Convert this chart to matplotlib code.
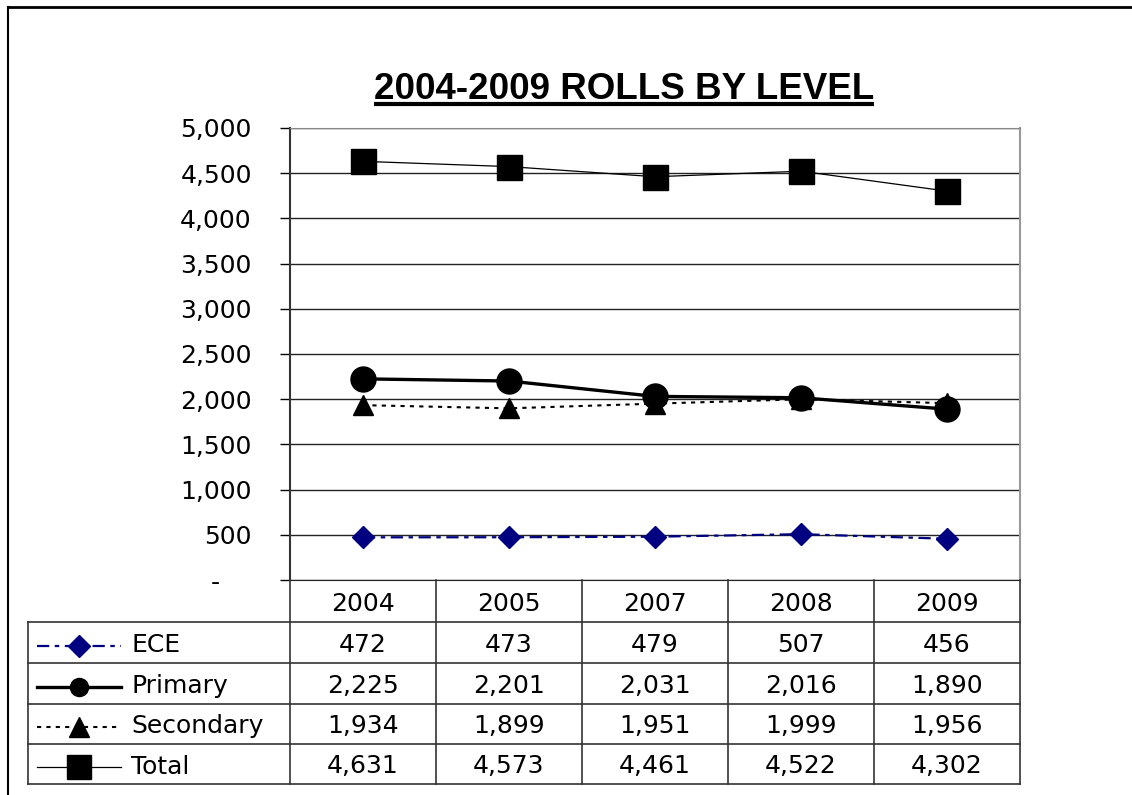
import matplotlib
matplotlib.use('Agg')
import matplotlib.pyplot as plt
from matplotlib.lines import Line2D
from matplotlib.ticker import FuncFormatter, MultipleLocator

plt.rcParams['font.family'] = ['DejaVu Sans']

years = ['2004', '2005', '2007', '2008', '2009']
ece = [472, 473, 479, 507, 456]
primary = [2225, 2201, 2031, 2016, 1890]
secondary = [1934, 1899, 1951, 1999, 1956]
total = [4631, 4573, 4461, 4522, 4302]
series_names = ['ECE', 'Primary', 'Secondary', 'Total']

W, H = 1132, 795
fig = plt.figure(figsize=(W / 100, H / 100), dpi=100)

# plot area (pixel box converted to figure fractions)
px_left, px_right, px_top, px_bottom = 290, 1020, 128, 580
ax = fig.add_axes([px_left / W, 1 - px_bottom / H,
                   (px_right - px_left) / W, (px_bottom - px_top) / H])

x = list(range(len(years)))
styles = {
    'ECE': dict(color='#000080', lw=1.6, ls=(0, (5.5, 2.5, 2, 2.5)), marker='D', ms=11, key_ms=11, zorder=3),
    'Primary': dict(color='black', lw=2.4, ls='-', marker='o', ms=18, key_ms=13, zorder=5),
    'Secondary': dict(color='black', lw=1.5, ls=(0, (2, 2.5)), marker='^', ms=15, key_ms=14, zorder=4),
    'Total': dict(color='black', lw=0.9, ls='-', marker='s', ms=18, key_ms=17, zorder=3),
}
values = {'ECE': ece, 'Primary': primary, 'Secondary': secondary, 'Total': total}

for name in series_names:
    st = styles[name]
    ax.plot(x, values[name], color=st['color'], lw=st['lw'], ls=st['ls'],
            marker=st['marker'], ms=st['ms'], mfc=st['color'], mec=st['color'],
            zorder=st['zorder'])

ax.set_xlim(-0.5, len(years) - 0.5)
ax.set_ylim(0, 5000)
ax.yaxis.set_major_locator(MultipleLocator(500))


def fmt(v, pos):
    # accounting style: zero shown as a dash with padding after it
    if v == 0:
        return '-    '
    return f'{int(v):,}'


ax.yaxis.set_major_formatter(FuncFormatter(fmt))
ax.tick_params(axis='y', direction='out', length=7.5, width=1, pad=20, labelsize=18)
ax.tick_params(axis='x', bottom=False, labelbottom=False)
ax.grid(axis='y', color='#222222', lw=1)
ax.set_axisbelow(True)
ax.spines['left'].set_color('#333333')
ax.spines['left'].set_linewidth(1.5)
ax.spines['right'].set_color('#999999')
ax.spines['right'].set_linewidth(1.5)
ax.spines['top'].set_color('#888888')
ax.spines['bottom'].set_color('#222222')

# overlay in pixel coordinates for the frame, title underline and data table
ov = fig.add_axes([0, 0, 1, 1], zorder=10)
ov.set_xlim(0, W)
ov.set_ylim(H, 0)
ov.axis('off')

# outer frame (top and left edges visible)
ov.plot([8, W], [7, 7], color='black', lw=2)
ov.plot([8, 8], [7, H], color='black', lw=1.5)

# title
t = ov.text(624, 99, '2004-2009 ROLLS BY LEVEL', fontsize=26.5, fontweight='bold',
            family=['Liberation Sans', 'DejaVu Sans'], ha='center', va='baseline')
fig.canvas.draw()
bb = t.get_window_extent()
ov.plot([bb.x0, bb.x1], [104, 104], color='black', lw=3, solid_capstyle='butt')

# data table
col_edges = [px_left + (px_right - px_left) * i / len(years) for i in range(len(years) + 1)]
row_edges = [580, 622, 663, 704, 744, 784]
tab_left = 28
line_kw = dict(color='#333333', lw=1.2)

for ye in row_edges[1:]:
    ov.plot([tab_left, px_right], [ye, ye], **line_kw)
for xe in col_edges:
    ov.plot([xe, xe], [row_edges[0], row_edges[-1]], **line_kw)
ov.plot([tab_left, tab_left], [row_edges[1], row_edges[-1]], **line_kw)

for j, yr in enumerate(years):
    xc = (col_edges[j] + col_edges[j + 1]) / 2
    ov.text(xc, row_edges[1] - 11, yr, fontsize=18, ha='center', va='baseline')

for i, name in enumerate(series_names):
    top, bot = row_edges[i + 1], row_edges[i + 2]
    yc = (top + bot) / 2 + 3
    st = styles[name]
    key = Line2D([37, 121], [yc, yc], color=st['color'], lw=st['lw'], ls=st['ls'])
    ov.add_line(key)
    ov.plot([79], [yc], marker=st['marker'], ms=st['key_ms'], color=st['color'], ls='none')
    ov.text(131, bot - 10.5, name, fontsize=18, ha='left', va='baseline')
    for j, v in enumerate(values[name]):
        xc = (col_edges[j] + col_edges[j + 1]) / 2
        ov.text(xc, bot - 10.5, f'{v:,}', fontsize=18, ha='center', va='baseline')

fig.savefig('out.png', dpi=100, facecolor='white')
